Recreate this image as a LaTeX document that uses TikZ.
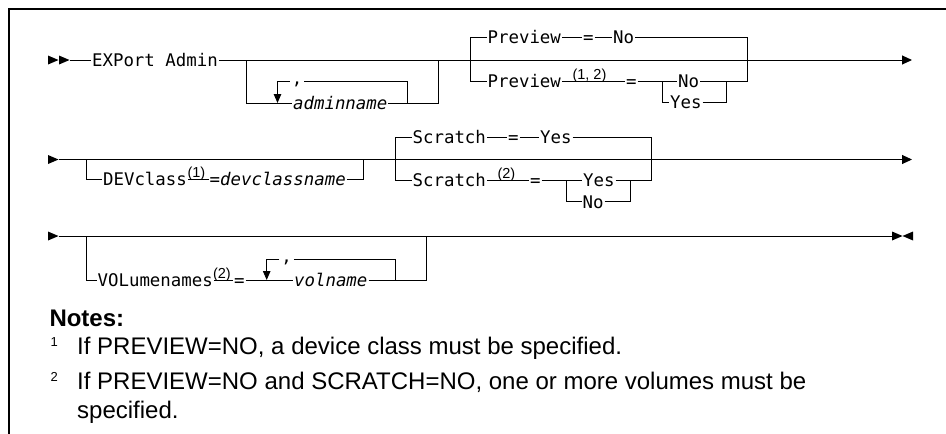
\documentclass[tikz,border=0pt]{standalone}
\usepackage{fontspec}
\setmainfont{Liberation Sans}
\setmonofont{DejaVu Sans Mono}[ItalicFont={DejaVu Sans Mono Oblique}]
\usetikzlibrary{arrows.meta, positioning}

\tikzset{
  rail/.style={line width=1pt},
  kw/.style={font=\fontsize{17.4}{20}\selectfont\ttfamily, anchor=west,
    inner xsep=0.6pt, inner ysep=0pt, text height=12.7pt, text depth=0pt},
  varname/.style={kw, font=\fontsize{17.4}{20}\selectfont\ttfamily\itshape},
  supnote/.style={font=\fontsize{14.5}{16}\selectfont, anchor=base west, inner sep=0pt},
  commabox/.style={font=\fontsize{17.4}{20}\selectfont\ttfamily, anchor=north,
    inner xsep=1.5pt, inner ysep=0pt, fill=white},
  railend/.style={-{Triangle[length=10pt,width=9pt]}},
  repend/.style={-{Triangle[length=9pt,width=7.5pt]}},
  notetext/.style={font=\fontsize{24}{29}\selectfont, anchor=base west, inner sep=0pt},
  notenum/.style={font=\fontsize{13}{15}\selectfont, anchor=base west, inner sep=0pt},
  rtip/.pic={\fill (0,-4.5) -- (10.5,0) -- (0,4.5) -- cycle;},
  ltip/.pic={\fill (0,-4.5) -- (-10.5,0) -- (0,4.5) -- cycle;},
}

\begin{document}
\begin{tikzpicture}[x=1pt, y=-1pt, rail]
    \useasboundingbox (0,0) rectangle (946,434);

    \coordinate (fr1) at (9,434);
    \coordinate (fr2) at (9,9);
    \coordinate (fr3) at (946,9);
    \draw[line width=1.6pt] (fr1) -- (fr2) -- (fr3);

    % first line
    \pic at (48,60) {rtip};
    \pic at (59,60) {rtip};
    \coordinate (r1s) at (70,60);
    \coordinate (r1e) at (912,60);
    \node[kw] (export) at (91,60) {EXPort Admin};

    \coordinate (g1l) at (246,60);
    \coordinate (g1r) at (438,60);
    \node[varname] (admin) at (292,103) {adminname};
    \node[commabox] (c1) at (297,81.5) {,};
    \coordinate (l1a) at (277.5,103);
    \coordinate (l1b) at (407,103);

    \coordinate (g2l) at (470,60);
    \coordinate (g2r) at (747,60);
    \node[kw] (pv1) at (486.5,37) {Preview};
    \node[kw] (eq1) at (582,37) {=};
    \node[kw] (no1) at (612,37) {No};
    \node[kw] (pv2) at (486.5,81) {Preview};
    \node[supnote] (s12) at (572,79) {(1, 2)};
    \node[kw] (eq2) at (625,81) {=};
    \coordinate (g3l) at (662,81);
    \coordinate (g3r) at (726,81);
    \node[kw] (no2) at (677,81) {No};
    \node[kw] (yes1) at (669,102) {Yes};

    \draw (r1s) -- (export);
    \draw[railend] (export) -- (r1e);
    \draw (g1l) |- (admin);
    \draw (admin) -| (g1r);
    \draw[repend] (c1.north west) -| (l1a);
    \draw (c1.north east) -| (l1b);
    \draw (g2l) |- (pv1);
    \draw (pv1) -- (eq1);
    \draw (eq1) -- (no1);
    \draw (no1) -| (g2r);
    \draw (g2l) |- (pv2);
    \draw (pv2) -- (eq2);
    \draw (eq2) -- (no2);
    \draw (no2) -| (g2r);
    \draw (g3l) |- (yes1);
    \draw (yes1) -| (g3r);

    % second line
    \pic at (48,159.5) {rtip};
    \coordinate (r2s) at (58.5,159.5);
    \coordinate (r2e) at (912,159.5);

    \coordinate (g4l) at (86,159.5);
    \coordinate (g4r) at (363.3,159.5);
    \node[kw] (dev) at (102,179.5) {DEVclass};
    \node[supnote] (s1) at (187,177.5) {(1)};
    \node[kw] (eq3) at (208.5,179.5) {=};
    \node[varname] (devname) at (219,179.5) {devclassname};

    \coordinate (g5l) at (395.7,159.5);
    \coordinate (g5r) at (651.7,159.5);
    \node[kw] (sc1) at (411.5,137) {Scratch};
    \node[kw] (eq4) at (507,137) {=};
    \node[kw] (yes2) at (539,137) {Yes};
    \node[kw] (sc2) at (411.5,180) {Scratch};
    \node[supnote] (s2) at (497,178) {(2)};
    \node[kw] (eq5) at (529,180) {=};
    \coordinate (g6l) at (566.7,180);
    \coordinate (g6r) at (630,180);
    \node[kw] (yes3) at (582,180) {Yes};
    \node[kw] (no3) at (581.5,201.7) {No};

    \draw[railend] (r2s) -- (r2e);
    \draw (g4l) |- (dev);
    \draw (dev) -- (eq3);
    \draw (devname) -| (g4r);
    \draw (g5l) |- (sc1);
    \draw (sc1) -- (eq4);
    \draw (eq4) -- (yes2);
    \draw (yes2) -| (g5r);
    \draw (g5l) |- (sc2);
    \draw (sc2) -- (eq5);
    \draw (eq5) -- (yes3);
    \draw (yes3) -| (g5r);
    \draw (g6l) |- (no3);
    \draw (no3) -| (g6r);

    % third line
    \pic at (48,236) {rtip};
    \coordinate (r3s) at (58.5,236);
    \coordinate (r3e) at (892,236);
    \pic at (892,236) {rtip};
    \pic at (913,236) {ltip};

    \coordinate (g7l) at (86,236);
    \coordinate (g7r) at (426.7,236);
    \node[kw] (vol) at (96.5,280) {VOLumenames};
    \node[supnote] (s3) at (212.5,278) {(2)};
    \node[kw] (eq6) at (233,280) {=};
    \node[varname] (volname) at (293,280) {volname};
    \node[commabox] (c2) at (286.7,259.3) {,};
    \coordinate (l2a) at (266.7,280);
    \coordinate (l2b) at (395,280);

    \draw (r3s) -- (r3e);
    \draw (g7l) |- (vol);
    \draw (vol) -- (eq6);
    \draw (eq6) -- (volname);
    \draw (volname) -| (g7r);
    \draw[repend] (c2.north west) -| (l2a);
    \draw (c2.north east) -| (l2b);

    % notes
    \node[notetext, font=\fontsize{24}{29}\selectfont\bfseries] (notes) at (49,326) {Notes:};
    \node[notenum] (k1) at (50,346) {1};
    \node[notetext] (n1) at (76.7,354) {If PREVIEW=NO, a device class must be specified.};
    \node[notenum] (k2) at (50,381) {2};
    \node[notetext] (n2) at (76.7,389) {If PREVIEW=NO and SCRATCH=NO, one or more volumes must be};
    \node[notetext] (n2b) at (76.7,418) {specified.};
\end{tikzpicture}
\end{document}
